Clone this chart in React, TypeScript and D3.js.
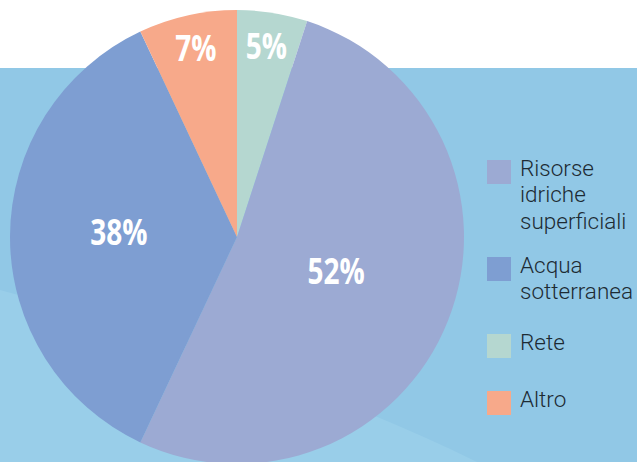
import { useEffect, useRef } from "react";
import * as d3 from "d3";

// slices in drawing order, clockwise from 12 o'clock
const sliceKeys = ["Rete", "Risorse", "Acqua", "Altro"];
const sliceValues = [5, 52, 36, 7];
const sliceLabels = ["5%", "52%", "38%", "7%"];
const sliceColors = ["#b5d7d0", "#9caad3", "#7e9ed2", "#f7a98a"];

// legend order
const legendKeys = ["Risorse", "Acqua", "Rete", "Altro"];
const legendLines = [
  ["Risorse", "idriche", "superficiali"],
  ["Acqua", "sotterranea"],
  ["Rete"],
  ["Altro"]
];

const W = 637, H = 462;

export default function App() {
  const ref = useRef<SVGSVGElement | null>(null);

  useEffect(() => {
    const svg = d3.select(ref.current);
    svg.selectAll("*").remove();
    svg.attr("viewBox", `0 0 ${W} ${H}`);

    const cx = 237, cy = 237, R = 227;
    const bandTop = 68;

    // background: white strip on top, light blue below, lighter wedge bottom-left
    svg.append("rect").attr("x", 0).attr("y", 0).attr("width", W).attr("height", H).attr("fill", "#ffffff");
    svg.append("rect").attr("x", 0).attr("y", bandTop).attr("width", W).attr("height", H - bandTop).attr("fill", "#91c8e6");
    svg.append("path")
      .attr("d", `M0,290 C150,330 330,390 477,${H} L0,${H} Z`)
      .attr("fill", "#99cee9");

    const color = d3.scaleOrdinal<string, string>().domain(sliceKeys).range(sliceColors);

    const pie = d3.pie<number>().sort(null).value(d => d);
    const arcs = pie(sliceValues);

    const arc = d3.arc<d3.PieArcDatum<number>>().innerRadius(0).outerRadius(R);
    const g = svg.append("g").attr("transform", `translate(${cx},${cy})`);

    g.selectAll("path.slice")
      .data(arcs)
      .enter()
      .append("path")
      .attr("class", "slice")
      .attr("d", arc)
      .attr("fill", (_, i) => color(sliceKeys[i]));

    // small slices get their label near the rim, big ones halfway in
    const labelArc = (d: d3.PieArcDatum<number>) => {
      const r = d.value < 10 ? R * 0.83 : d.value > 45 ? R * 0.47 : R * 0.52;
      return d3.arc<d3.PieArcDatum<number>>().innerRadius(r).outerRadius(r).centroid(d);
    };

    // condensed bold look: squeeze the text horizontally
    const squeeze = 0.8;
    g.selectAll("text.pct")
      .data(arcs)
      .enter()
      .append("text")
      .attr("class", "pct")
      .attr("transform", d => {
        const [x, y] = labelArc(d);
        return `translate(${x},${y + 8}) scale(${squeeze},1)`;
      })
      .attr("text-anchor", "middle")
      .attr("fill", "#ffffff")
      .attr("font-family", "'Open Sans', sans-serif")
      .attr("font-weight", "bold")
      .attr("font-size", 35)
      .text((_, i) => sliceLabels[i]);

    // legend
    const lx = 487, sq = 24, lineH = 26.5;
    let ly = 160;
    const lg = svg.append("g");
    legendKeys.forEach((k, i) => {
      const lines = legendLines[i];
      lg.append("rect")
        .attr("x", lx).attr("y", ly)
        .attr("width", sq).attr("height", sq)
        .attr("fill", color(k));
      const t = lg.append("text")
        .attr("x", lx + 33)
        .attr("y", ly + 15.5)
        .attr("fill", "#1d2b33")
        .attr("font-family", "Roboto, sans-serif")
        .attr("font-weight", 300)
        .attr("font-size", 22.5);
      lines.forEach((s, j) => {
        t.append("tspan").attr("x", lx + 33).attr("dy", j === 0 ? 0 : lineH).text(s);
      });
      ly += 37 + 20 * lines.length;
    });
  }, []);

  return (
    <svg
      ref={ref}
      width={W}
      height={H}
      style={{ position: "absolute", left: 0, top: 0, display: "block" }}
    />
  );
}
